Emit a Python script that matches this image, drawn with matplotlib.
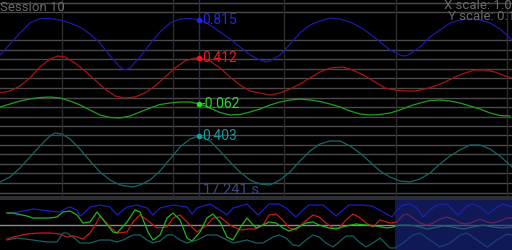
import numpy as np
import matplotlib.pyplot as plt
from matplotlib.patches import Rectangle

plt.rcParams['font.family'] = ['Roboto', 'DejaVu Sans']

# main traces (column, row)
blue_x = [0, 10, 20, 30, 40, 50, 60, 70, 80, 90, 100, 110, 120, 125, 130, 140, 150, 160, 170, 180, 190, 200,
          210, 220, 230, 240, 250, 260, 266, 270, 280, 290, 300, 310, 320, 330, 340, 350, 360, 370, 380, 390,
          400, 405, 410, 420, 430, 440, 450, 460, 470, 480, 490, 500, 512]
blue_y = [55, 44, 33, 23, 18.5, 18.5, 20, 23, 27, 34, 43, 56, 67, 70, 68, 57, 44, 32, 23, 19, 18.5, 20,
          25, 32, 39, 47, 55, 60, 62, 61, 55, 44, 33, 25, 21, 18, 19, 22, 27, 34, 42, 50,
          55, 56, 54, 47, 37, 30, 23, 20, 19, 20, 23, 29, 40]
red_x = [0, 10, 20, 30, 40, 50, 58, 65, 75, 85, 95, 105, 115, 125, 135, 145, 155, 165, 175, 185, 195, 200,
         210, 220, 230, 240, 250, 260, 270, 280, 290, 300, 310, 320, 330, 343, 355, 365, 375, 385, 395, 405,
         415, 425, 435, 445, 455, 465, 475, 485, 495, 505, 512]
red_y = [93, 91, 86, 78, 67, 59, 56, 57, 63, 71, 80, 89, 96, 98, 97, 93, 86, 77, 68, 61, 58, 58,
         61, 68, 77, 85, 91, 93, 95, 93, 89, 84, 78, 72, 68, 67, 71, 76, 82, 88, 90, 91,
         91, 89, 86, 82, 77, 73, 70, 70, 72, 76, 78]
green_x = list(range(0, 520, 10))
green_y = [107, 104, 101, 99, 97.5, 97, 98, 101, 105, 110, 115, 117.5, 118, 116, 112, 108, 104.5, 103, 102, 102,
           104, 108, 112.5, 115, 114.5, 112, 109, 105, 102, 100, 99, 100, 101.5, 104, 107, 111, 114, 115,
           114.5, 113, 110, 106, 103, 100.5, 100, 101, 103, 106, 109, 113, 115.5, 116]
teal_x = [0, 10, 20, 30, 40, 50, 55, 62, 70, 80, 90, 100, 110, 120, 133, 140, 150, 160, 170, 180, 190, 199,
          210, 220, 230, 240, 250, 260, 270, 280, 290, 300, 310, 320, 330, 340, 350, 360, 370, 380, 390, 400,
          410, 420, 430, 440, 450, 460, 470, 480, 490, 500, 512]
teal_y = [182, 177, 168, 157, 146, 136, 133, 134, 139, 149, 161, 172, 180, 185, 187, 185, 180, 171, 159, 147, 139, 136,
          141, 151, 162, 172, 180, 184, 185, 180, 172, 161, 151, 144, 141, 141, 146, 153, 162, 171, 177, 181,
          182, 179, 173, 164, 156, 150, 145, 145, 149, 156, 167]

cursor_x = 199
cursor_vals = ['0.815', '0.412', '-0.062', '0.403']
cursor_rows = [20, 58, 104, 136]
cursor_time = '17.241 s'

# overview traces
ov_blue_x = [7, 13, 33, 50, 60, 67, 70, 77, 80, 83, 90, 100, 110, 117, 127, 137, 147, 153, 160, 173, 187, 192,
             197, 210, 220, 227, 233, 247, 258, 269, 279, 286, 296, 303, 309, 323, 329, 336, 343, 349, 362,
             372, 383, 392, 397, 403, 410, 417, 423, 430, 437, 447, 453, 458, 467, 473, 480, 488, 497, 503, 512]
ov_blue_y = [213, 213, 209, 211, 212, 208, 207, 210, 216, 214, 207, 205, 207, 215, 207, 205, 208, 215, 208, 205, 207, 214,
             208, 204, 210, 215, 208, 204, 215, 204, 204, 208, 217, 210, 205, 205, 210, 216, 210, 205, 205,
             206, 212, 217, 210, 205, 204, 208, 217, 210, 205, 204, 210, 215, 206, 204, 207, 214, 207, 204, 207]
ov_red_x = [7, 13, 27, 40, 50, 60, 67, 73, 77, 83, 90, 97, 100, 110, 117, 127, 133, 140, 147, 157, 167, 173,
            180, 187, 197, 207, 213, 220, 230, 240, 248, 256, 263, 269, 276, 283, 289, 296, 303, 313, 319, 326,
            333, 339, 346, 353, 359, 366, 373, 380, 390, 397, 403, 407, 413, 420, 427, 433, 440, 447, 453, 460,
            467, 473, 480, 487, 493, 500, 507, 512]
ov_red_y = [239, 237, 234, 233, 233, 234, 237, 236, 237, 239, 233, 222, 216, 227, 233, 232, 222, 215, 220, 228, 227, 218,
            215, 222, 232, 225, 218, 217, 225, 230, 229, 229, 225, 215, 214, 220, 228, 230, 223, 215, 217, 223,
            228, 228, 220, 214, 217, 223, 227, 220, 223, 222, 215, 214, 218, 223, 225, 223, 219, 217, 219, 223,
            224, 222, 219, 222, 223, 221, 218, 218]
ov_green_x = [7, 13, 27, 33, 50, 57, 63, 70, 77, 83, 90, 97, 113, 117, 127, 135, 140, 148, 153, 160, 167, 173,
              180, 187, 192, 200, 207, 213, 220, 227, 233, 240, 247, 256, 263, 269, 276, 283, 289, 299, 306, 313,
              319, 329, 336, 346, 356, 366, 376, 387, 393, 400, 410, 420, 427, 433, 443, 453, 463, 473, 483, 493,
              503, 512]
ov_green_y = [213, 213, 216, 218, 218, 217, 212, 211, 215, 223, 222, 212, 232, 233, 222, 210, 212, 232, 240, 235, 218, 213,
              220, 238, 241, 232, 218, 214, 222, 237, 240, 228, 218, 228, 225, 222, 223, 228, 231, 227, 223, 222,
              225, 228, 229, 226, 224, 225, 226, 228, 227, 225, 225, 227, 229, 228, 226, 227, 229, 227, 225, 227,
              228, 227]
ov_teal_x = [7, 17, 33, 47, 57, 63, 67, 73, 80, 90, 100, 110, 117, 123, 133, 140, 147, 153, 160, 167, 173, 180,
             187, 197, 207, 217, 227, 233, 247, 256, 263, 273, 279, 286, 293, 299, 306, 313, 319, 326, 333, 339,
             346, 353, 359, 366, 373, 380, 390, 395, 403, 413, 420, 430, 440, 450, 460, 467, 477, 487, 497, 507, 512]
ov_teal_y = [240, 238, 240, 242, 242, 233, 233, 237, 243, 243, 240, 240, 242, 240, 235, 235, 240, 243, 241, 235, 235, 240,
             243, 240, 235, 235, 240, 243, 240, 243, 243, 237, 235, 238, 245, 246, 240, 235, 237, 243, 247, 242,
             236, 236, 242, 247, 243, 238, 248, 248, 243, 235, 233, 240, 247, 243, 235, 233, 240, 247, 240, 234, 235]

grid_rows = [3, 12, 40, 50, 59, 69, 78, 88, 98, 107, 117, 126, 135, 145, 154, 164, 173, 183, 193]
grid_cols = [62, 173, 284, 396, 507]
view_start = 395

fig = plt.figure(figsize=(5.12, 2.5), dpi=100, facecolor='black')

ax = fig.add_axes([0, 54 / 250, 1, 196 / 250])
ax.set_facecolor('black')
ax.set_xlim(0, 512)
ax.set_ylim(196, 0)
ax.axis('off')
for r in grid_rows:
    ax.axhline(r, color='#4a4a4a', lw=1, zorder=1)
for c in grid_cols:
    ax.axvline(c, color='#2c2c2c', lw=1, zorder=1)
ax.axvline(cursor_x, color='#262c60', lw=1, zorder=2)

traces = [(blue_x, blue_y, '#1a1aa8', '#2424f0'),
          (red_x, red_y, '#a81414', '#f01818'),
          (green_x, green_y, '#1ea01e', '#24e024'),
          (teal_x, teal_y, '#156666', '#1c9a9a')]
for (xs, ys, lc, tc), val, row in zip(traces, cursor_vals, cursor_rows):
    ax.plot(xs, ys, color=lc, lw=0.9, zorder=3)
    ax.plot(cursor_x, row, 'o', color=tc, ms=3, zorder=4)
    ax.text(cursor_x + 3, row, val, color=tc, fontsize=10, va='center', ha='left', zorder=5)

ax.text(cursor_x + 4, 190, cursor_time, color='#3c4880', fontsize=10.5, va='center', ha='left')
ax.text(0, 0.5, 'Session 10', color='#6a6a6a', fontsize=9.5, va='top', ha='left')
ax.text(444, -1, 'X scale: 1.0', color='#6a6a6a', fontsize=9.5, va='top', ha='left', clip_on=True)
ax.text(448, 10, 'Y scale: 0.1', color='#6a6a6a', fontsize=9.5, va='top', ha='left', clip_on=True)

band = fig.add_axes([0, 50 / 250, 1, 4 / 250])
band.set_facecolor('#2a2e33')
band.set_xticks([])
band.set_yticks([])
for s in band.spines.values():
    s.set_visible(False)

ov = fig.add_axes([0, 0, 1, 50 / 250])
ov.set_facecolor('black')
ov.set_xlim(0, 512)
ov.set_ylim(250, 200)
ov.axis('off')
ov.axhline(225, color='#8a8a8a', lw=1, zorder=1)
ov_traces = [(ov_blue_x, ov_blue_y, '#1c1cc0'), (ov_red_x, ov_red_y, '#c81818'),
             (ov_green_x, ov_green_y, '#20b420'), (ov_teal_x, ov_teal_y, '#156060')]
for xs, ys, lc in ov_traces:
    ov.plot(xs, ys, color=lc, lw=0.9, zorder=3)
ov.add_patch(Rectangle((view_start, 199), 512 - view_start, 52, color='#1c2a8e', alpha=0.6, lw=0, zorder=5))

fig.savefig('out.png', dpi=100, facecolor='black')
